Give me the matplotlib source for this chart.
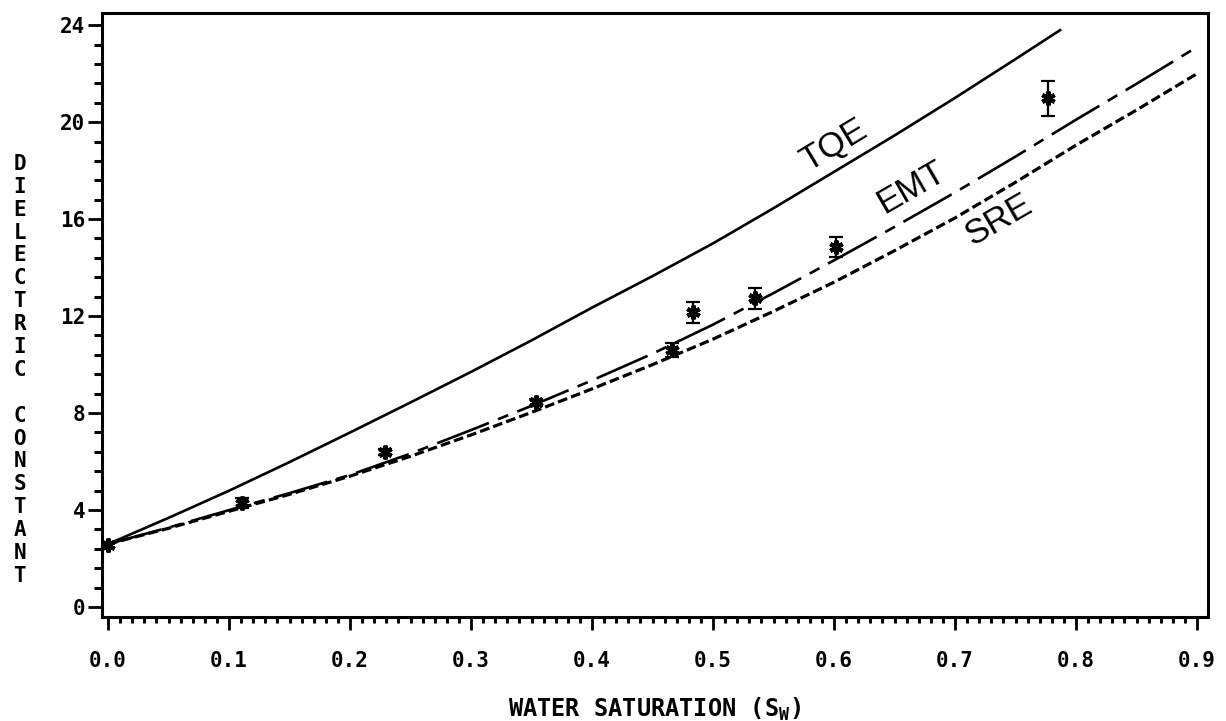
import matplotlib
matplotlib.use("Agg")
import matplotlib.pyplot as plt
from matplotlib.ticker import MultipleLocator, FormatStrFormatter

plt.rcParams['lines.scale_dashes'] = False

# Measured dielectric constant vs water saturation
sw_meas = [0.000, 0.111, 0.229, 0.354, 0.466, 0.483, 0.535, 0.602, 0.777]
eps_meas = [2.56, 4.29, 6.39, 8.45, 10.60, 12.16, 12.74, 14.85, 20.99]
eps_err = [0.12, 0.20, 0.12, 0.15, 0.30, 0.44, 0.43, 0.41, 0.72]

# Model curves
sw_tqe = [0.0, 0.05, 0.1, 0.15, 0.2, 0.25, 0.3, 0.35, 0.4, 0.45, 0.5,
          0.55, 0.6, 0.65, 0.7, 0.75, 0.787]
eps_tqe = [2.6, 3.68, 4.8, 5.98, 7.2, 8.44, 9.7, 11.0, 12.35, 13.65, 15.0,
           16.45, 17.95, 19.45, 21.0, 22.6, 23.8]

sw_emt = [0.0, 0.05, 0.1, 0.15, 0.2, 0.25, 0.3, 0.35, 0.4, 0.45, 0.5,
          0.55, 0.6, 0.65, 0.7, 0.75, 0.8, 0.85, 0.9]
eps_emt = [2.6, 3.28, 4.0, 4.7, 5.45, 6.33, 7.3, 8.3, 9.35, 10.45, 11.65,
           12.95, 14.3, 15.68, 17.1, 18.58, 20.1, 21.58, 23.1]

sw_sre = [0.0, 0.05, 0.1, 0.15, 0.2, 0.25, 0.3, 0.35, 0.4, 0.45, 0.5,
          0.55, 0.6, 0.65, 0.7, 0.75, 0.8, 0.85, 0.9]
eps_sre = [2.6, 3.25, 3.95, 4.65, 5.4, 6.22, 7.1, 8.03, 9.0, 10.0, 11.05,
           12.2, 13.4, 14.7, 16.05, 17.52, 19.05, 20.5, 22.0]

x_ticks = [0.0, 0.1, 0.2, 0.3, 0.4, 0.5, 0.6, 0.7, 0.8, 0.9]
y_ticks = [0, 4, 8, 12, 16, 20, 24]

tick_font = dict(family='DejaVu Sans Mono', weight='bold', size=15)

fig = plt.figure(figsize=(12.26, 7.21), dpi=100)
ax = fig.add_axes([0.0832, 0.1442, 0.9021, 0.8378])

ax.plot(sw_tqe, eps_tqe, color='black', lw=1.9, solid_capstyle='round')
ax.plot(sw_emt, eps_emt, color='black', lw=1.9, dashes=(40, 7, 8, 7))
ax.plot(sw_sre, eps_sre, color='black', lw=2.3, dashes=(7, 3))

ax.errorbar(sw_meas, eps_meas, yerr=eps_err, fmt='none', ecolor='black',
            elinewidth=1.6, capsize=5, capthick=1.6)
ax.plot(sw_meas, eps_meas, linestyle='none', marker=(6, 2, 0),
        markersize=10, markeredgewidth=3.0, color='black')
ax.plot(sw_meas, eps_meas, linestyle='none', marker='o',
        markersize=5, color='black')

ax.set_xlim(-0.005, 0.909)
ax.set_ylim(-0.41, 24.5)

ax.xaxis.set_minor_locator(MultipleLocator(0.01))
ax.yaxis.set_minor_locator(MultipleLocator(0.8))
ax.set_xticks(x_ticks)
ax.set_yticks(y_ticks)
ax.xaxis.set_major_formatter(FormatStrFormatter('%.1f'))
ax.yaxis.set_major_formatter(FormatStrFormatter('%d'))

for s in ax.spines.values():
    s.set_linewidth(2.2)

ax.tick_params(axis='x', which='major', direction='out', length=9.5,
               width=2.0, pad=15)
ax.tick_params(axis='x', which='minor', direction='out', length=4.5,
               width=2.2)
ax.tick_params(axis='y', which='major', direction='out', length=10,
               width=2.0, pad=2)
ax.tick_params(axis='y', which='minor', direction='out', length=6,
               width=2.2)
for lab in ax.get_xticklabels() + ax.get_yticklabels():
    lab.set_fontfamily(tick_font['family'])
    lab.set_fontweight(tick_font['weight'])
    lab.set_fontsize(tick_font['size'])

# Curve labels
lab_font = dict(family='Liberation Sans', size=25, color='black',
                ha='center', va='center', rotation_mode='anchor')
ax.text(0.600, 19.05, 'TQE', rotation=31, **lab_font)
ax.text(0.664, 17.32, 'EMT', rotation=30, **lab_font)
ax.text(0.736, 15.96, 'SRE', rotation=30, **lab_font)

# Axis titles
fig.text(0.534, 0.006, r'WATER SATURATION (S$_\mathregular{W}$)',
         ha='center', va='baseline', family='DejaVu Sans Mono',
         weight='bold', size=17)
fig.text(0.016, 0.487, '\n'.join('DIELECTRIC CONSTANT'),
         ha='center', va='center', family='DejaVu Sans Mono',
         weight='bold', size=15, linespacing=1.18)

fig.savefig('out.png', dpi=100, facecolor='white')
